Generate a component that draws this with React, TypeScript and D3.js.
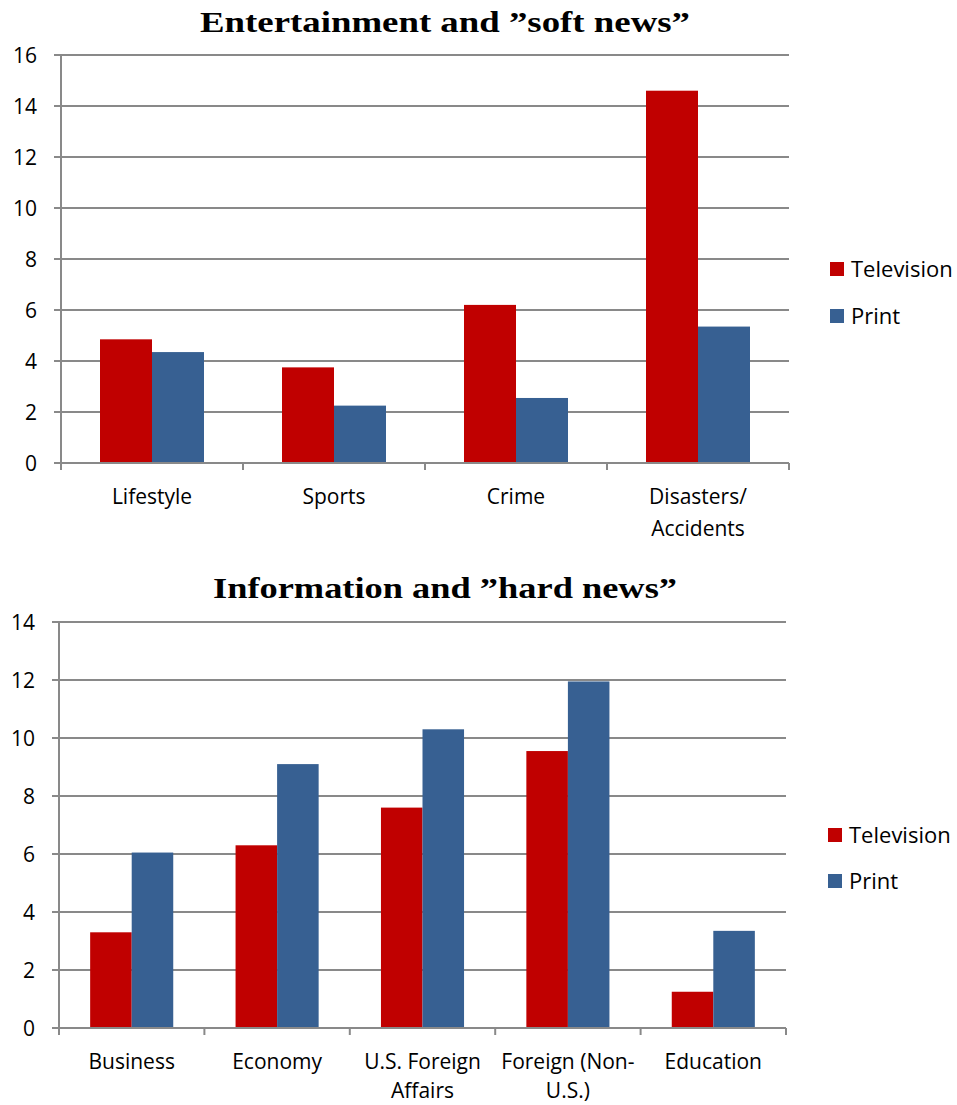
import React from "react";
import * as d3 from "d3";

// ---- Data ----
const softCategories = [["Lifestyle"], ["Sports"], ["Crime"], ["Disasters/", "Accidents"]];
const softTelevision = [4.85, 3.75, 6.2, 14.6];
const softPrint = [4.35, 2.25, 2.55, 5.35];
const softTicks = [0, 2, 4, 6, 8, 10, 12, 14, 16];

const hardCategories = [["Business"], ["Economy"], ["U.S. Foreign", "Affairs"], ["Foreign (Non-", "U.S.)"], ["Education"]];
const hardTelevision = [3.3, 6.3, 7.6, 9.55, 1.25];
const hardPrint = [6.05, 9.1, 10.3, 11.95, 3.35];
const hardTicks = [0, 2, 4, 6, 8, 10, 12, 14];

const seriesNames = ["Television", "Print"];
const seriesColors = ["#C00000", "#376092"];

const titles = ["Entertainment and \u201dsoft news\u201d", "Information and \u201dhard news\u201d"];

const GRID = "#898989";
const FONT = "'Open Sans', Lato, sans-serif";

type PanelProps = {
  title: string;
  titleY: number;
  titleLen: number;
  categories: string[][];
  tv: number[];
  pr: number[];
  ticks: number[];
  x0: number;
  x1: number;
  yTop: number;
  yBottom: number;
  labelY: number;
  labelDy: number;
  legendY: number[];
  legendX: number;
};

function Panel(p: PanelProps) {
  const yMax = p.ticks[p.ticks.length - 1];
  const y = d3.scaleLinear().domain([0, yMax]).range([p.yBottom, p.yTop]);
  const x = d3
    .scaleBand<number>()
    .domain(d3.range(p.categories.length))
    .range([p.x0, p.x1])
    .paddingInner(0)
    .paddingOuter(0);
  const inner = d3
    .scaleBand<number>()
    .domain([0, 1])
    .range([0, x.bandwidth()])
    .paddingInner(0)
    .paddingOuter(0.75);
  const series = [p.tv, p.pr];
  const boundaries = d3.range(p.categories.length + 1).map((i) => p.x0 + i * x.bandwidth());

  return (
    <g>
      <text
        x={445}
        y={p.titleY}
        textAnchor="middle"
        fontFamily="'Liberation Serif', 'DejaVu Serif', serif"
        fontWeight="bold"
        fontSize={29}
        textLength={p.titleLen}
        lengthAdjust="spacingAndGlyphs"
        fill="#000"
      >
        {p.title}
      </text>
      {p.ticks.map((t) => (
        <g key={t}>
          <line x1={p.x0 - 7} x2={p.x1} y1={y(t)} y2={y(t)} stroke={GRID} strokeWidth={2} />
          <text x={p.x0 - 24} y={y(t)} dy="0.36em" textAnchor="end" fontFamily={FONT} fontSize={21} fill="#000">
            {t}
          </text>
        </g>
      ))}
      <line x1={p.x0} x2={p.x0} y1={p.yTop} y2={p.yBottom} stroke={GRID} strokeWidth={2} />
      {series.map((vals, s) =>
        vals.map((v, i) => (
          <rect
            key={`${s}-${i}`}
            x={(x(i) as number) + (inner(s) as number)}
            y={y(v)}
            width={inner.bandwidth()}
            height={y(0) - y(v)}
            fill={seriesColors[s]}
          />
        ))
      )}
      <line x1={p.x0} x2={p.x1} y1={y(0)} y2={y(0)} stroke={GRID} strokeWidth={2} />
      {boundaries.map((bx, i) => (
        <line key={i} x1={bx} x2={bx} y1={y(0)} y2={y(0) + 7} stroke={GRID} strokeWidth={2} />
      ))}
      {p.categories.map((lines, i) => (
        <text
          key={i}
          x={(x(i) as number) + x.bandwidth() / 2}
          y={p.labelY}
          textAnchor="middle"
          fontFamily={FONT}
          fontSize={21}
          fill="#000"
        >
          {lines.map((l, j) => (
            <tspan key={j} x={(x(i) as number) + x.bandwidth() / 2} dy={j === 0 ? 0 : p.labelDy}>
              {l}
            </tspan>
          ))}
        </text>
      ))}
      {seriesNames.map((n, s) => (
        <g key={n}>
          <rect x={p.legendX} y={p.legendY[s] - 7} width={14} height={14} fill={seriesColors[s]} />
          <text x={p.legendX + 21} y={p.legendY[s]} dy="0.36em" fontFamily={FONT} fontSize={22} fill="#000">
            {n}
          </text>
        </g>
      ))}
    </g>
  );
}

export default function App() {
  return (
    <svg
      width={957}
      height={1105}
      style={{ position: "absolute", left: 0, top: 0, background: "#fff" }}
    >
      <rect width={957} height={1105} fill="#fff" />
      <Panel
        title={titles[0]}
        titleY={32}
        titleLen={490}
        categories={softCategories}
        tv={softTelevision}
        pr={softPrint}
        ticks={softTicks}
        x0={61}
        x1={789}
        yTop={55}
        yBottom={463}
        labelY={504}
        labelDy={32}
        legendY={[269, 316]}
        legendX={830}
      />
      <Panel
        title={titles[1]}
        titleY={598}
        titleLen={464}
        categories={hardCategories}
        tv={hardTelevision}
        pr={hardPrint}
        ticks={hardTicks}
        x0={59}
        x1={786}
        yTop={622}
        yBottom={1028}
        labelY={1069}
        labelDy={29}
        legendY={[835, 881]}
        legendX={828}
      />
    </svg>
  );
}
